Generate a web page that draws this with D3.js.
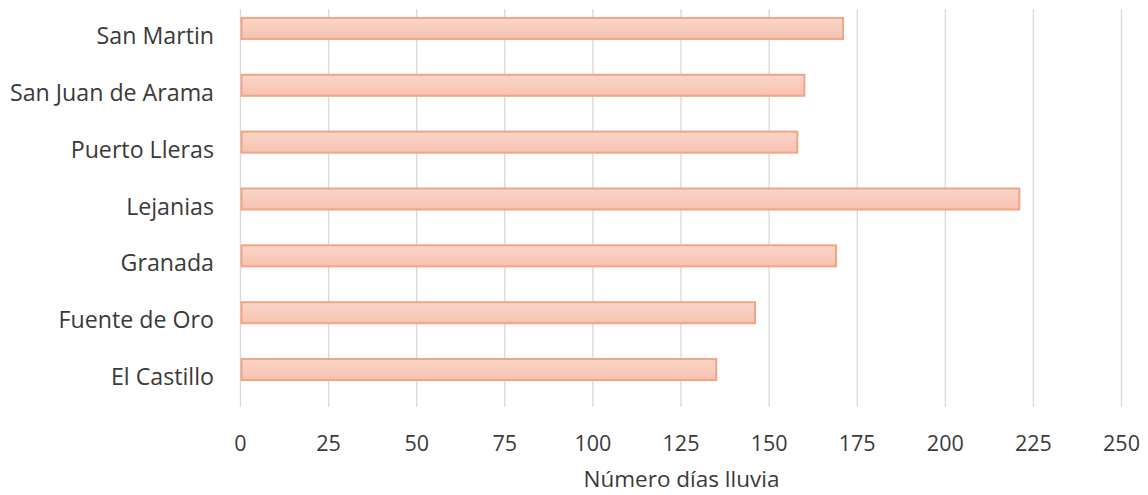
<!DOCTYPE html>
<html><head><meta charset="utf-8">
<script src="https://cdn.jsdelivr.net/npm/d3@7"></script>
<style>body{margin:0;background:#fff}svg{display:block}text{font-family:"Open Sans",Lato,sans-serif;fill:#3a3a3a}</style>
</head><body><svg id="c" width="1148" height="495"></svg>
<script>
const categories = ["San Martin","San Juan de Arama","Puerto Lleras","Lejanias","Granada","Fuente de Oro","El Castillo"];
const values = [171, 160, 158, 221, 169, 146, 135];
const ticks = [0,25,50,75,100,125,150,175,200,225,250];
const axisTitle = "Número días lluvia";

const svg = d3.select("#c");
const defs = svg.append("defs");
const g1 = defs.append("linearGradient").attr("id","bg").attr("x1",0).attr("x2",0).attr("y1",0).attr("y2",1);
g1.append("stop").attr("offset","0%").attr("stop-color","#fad6c9");
g1.append("stop").attr("offset","100%").attr("stop-color","#f6c2af");

const x = d3.scaleLinear().domain([0,250]).range([240.5,1121.5]);
const y = d3.scaleBand().domain(categories).range([0,398]).paddingInner(0.63).paddingOuter(0.315);

// gridlines
svg.append("g").selectAll("line").data(ticks).join("line")
  .attr("x1",d=>x(d)).attr("x2",d=>x(d)).attr("y1",9).attr("y2",407)
  .attr("stroke","#d9d9d9").attr("stroke-width",1.3);

// bars
svg.append("g").selectAll("rect").data(categories).join("rect")
  .attr("x",x(0)+1).attr("y",d=>y(d))
  .attr("width",(d,i)=>x(values[i])-x(0)-1).attr("height",y.bandwidth())
  .attr("fill","url(#bg)").attr("stroke","#f0a488").attr("stroke-width",2);

// category labels
svg.append("g").selectAll("text").data(categories).join("text")
  .attr("x",214).attr("y",d=>y(d)+y.bandwidth()/2+15.5)
  .attr("text-anchor","end").attr("font-size",23.2).text(d=>d);

// tick labels
svg.append("g").selectAll("text").data(ticks).join("text")
  .attr("x",d=>x(d)).attr("y",451)
  .attr("text-anchor","middle").attr("font-size",21.5).text(d=>d);

svg.append("text").attr("x",681.5).attr("y",487)
  .attr("text-anchor","middle").attr("font-size",22.5).text(axisTitle);
</script></body></html>
